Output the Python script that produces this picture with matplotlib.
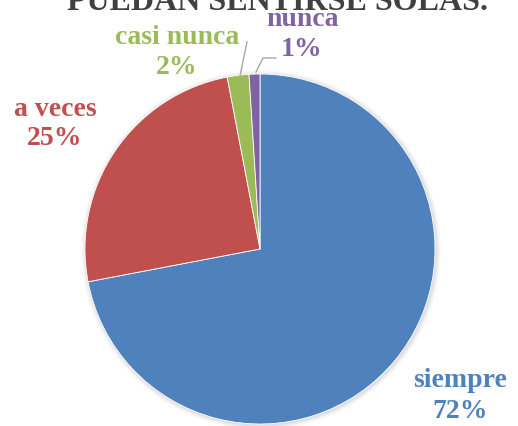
import matplotlib
matplotlib.use("Agg")
import matplotlib.pyplot as plt
from matplotlib.patches import Circle

# Survey answers and their share of responses (%)
categories = ["siempre", "a veces", "casi nunca", "nunca"]
values = [72, 25, 2, 1]
colors = ["#4F81BD", "#C0504D", "#9BBB59", "#8064A2"]
title = "PUEDAN SENTIRSE SOLAS."

W, H = 518, 427
fig = plt.figure(figsize=(W / 100, H / 100), dpi=100)
ax = fig.add_axes([0, 0, 1, 1])

cx, cy, r = 260, 250, 175

# soft shadow around the pie
for i, a in enumerate([0.035, 0.03, 0.025, 0.02, 0.015]):
    ax.add_patch(Circle((cx + 1, cy + 1), r + 1 + i, color="black", alpha=a,
                        lw=0, zorder=1))

# y axis runs downward, so angles are mirrored: start at the top, go clockwise
ax.pie(values, colors=colors, startangle=-90, counterclock=True,
       center=(cx, cy), radius=r, frame=True,
       wedgeprops=dict(linewidth=0.6, edgecolor="white", zorder=2))
ax.set_xlim(0, W)
ax.set_ylim(H, 0)
ax.set_aspect("equal")
ax.axis("off")

font = dict(family="Liberation Serif", weight="bold", fontsize=20)

label_pos = {
    "siempre": (460, 381, 412),
    "a veces": (55, 110, 139),
    "casi nunca": (177, 37, 67),
    "nunca": (302, 20, 50),
}
for cat, val, col in zip(categories, values, colors):
    x, y1, y2 = label_pos[cat]
    ax.text(x, y1, cat, color=col, ha="center", va="center", **font)
    ax.text(x, y2, f"{val}%", color=col, ha="center", va="center", **font)

# leader lines for the small slices
ax.plot([240, 247], [77, 43], color="#A6A6A6", lw=1.0, zorder=3)
ax.plot([256, 263, 276], [73, 59, 59], color="#A6A6A6", lw=1.0, zorder=3)

ax.text(277, 10, title, color="#404040", ha="center", va="baseline",
        family="Liberation Serif", weight="bold", fontsize=23)

fig.savefig("out.png", dpi=100)
